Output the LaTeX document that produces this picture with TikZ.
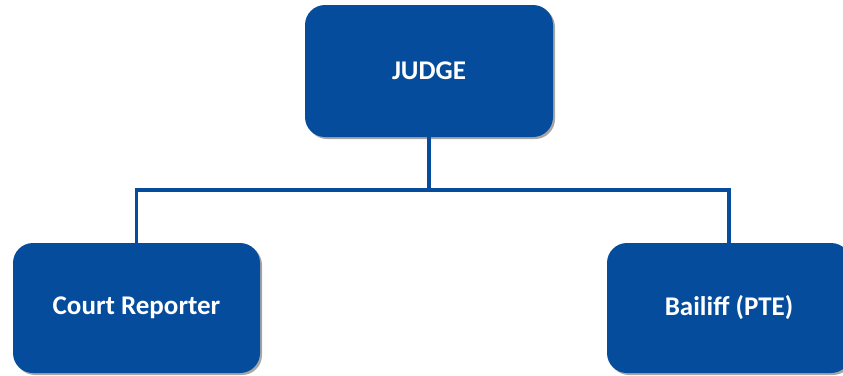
\documentclass[tikz,border=0pt]{standalone}
\usepackage{fontspec}
\setmainfont{Carlito}
\usetikzlibrary{shadows}
\definecolor{courtblue}{HTML}{064C9C}
\begin{document}
\begin{tikzpicture}[x=1pt,y=-1pt,
        post/.style={rectangle,rounded corners=20pt,fill=courtblue,text=white,
            font=\bfseries\fontsize{27}{30}\selectfont,
            drop shadow={shadow xshift=2pt,shadow yshift=-2pt,opacity=.35,fill=black}},
        link/.style={draw=courtblue,line width=3.5pt}]
        \useasboundingbox (0,0) rectangle (843,375);
        \node[post,minimum width=248pt,minimum height=132pt] (judge) at (429,71){JUDGE};
        \node[post,minimum width=247pt,minimum height=130pt] (court) at (136.5,308){Court Reporter};
        \node[post,minimum width=244pt,minimum height=130pt] (bailiff) at (729,308){Bailiff (PTE)};
        \coordinate (bus) at (429,190);
        \draw[link] (judge.south) -- (bus) -| (court.north);
        \draw[link] (bus) -| (bailiff.north);
    \end{tikzpicture}
\end{document}
